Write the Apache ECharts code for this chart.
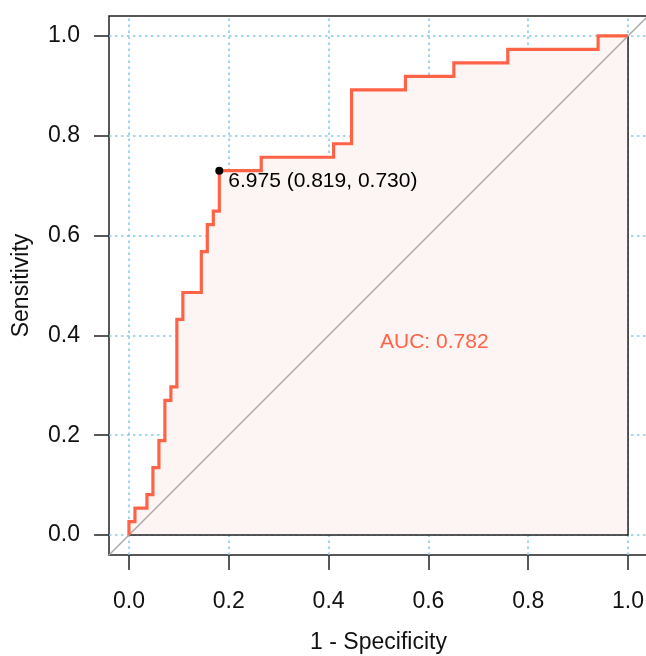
<!DOCTYPE html>
<html>
<head>
<meta charset="utf-8">
<script src="https://cdn.jsdelivr.net/npm/echarts@6/dist/echarts.min.js"></script>
<style>
    html, body { margin: 0; padding: 0; background: #fff; }
    #roc { width: 646px; height: 656px; }
</style>
</head>
<body>
<div id="roc"></div>
<script>
// corners of the ROC step curve (1 - specificity, sensitivity)
var fpr = [0, 0, 0.012, 0.012, 0.036, 0.036, 0.048, 0.048, 0.060, 0.060, 0.072, 0.072,
    0.084, 0.084, 0.096, 0.096, 0.108, 0.108, 0.145, 0.145, 0.157, 0.157, 0.169, 0.169,
    0.181, 0.181, 0.265, 0.265, 0.410, 0.410, 0.446, 0.446, 0.554, 0.554, 0.651, 0.651,
    0.759, 0.759, 0.940, 0.940, 1.0];
var tpr = [0, 0.027, 0.027, 0.054, 0.054, 0.081, 0.081, 0.135, 0.135, 0.189, 0.189, 0.270,
    0.270, 0.297, 0.297, 0.432, 0.432, 0.486, 0.486, 0.568, 0.568, 0.622, 0.622, 0.649,
    0.649, 0.730, 0.730, 0.757, 0.757, 0.784, 0.784, 0.892, 0.892, 0.919, 0.919, 0.946,
    0.946, 0.973, 0.973, 1.0, 1.0];
var ticks = [0, 0.2, 0.4, 0.6, 0.8, 1.0];
var diagX = [-0.04, 1.04];
var diagY = [-0.04, 1.04];
var bestPoint = [0.181, 0.730];
var bestLabel = '6.975 (0.819, 0.730)';
var aucPos = [0.503, 0.386];
var aucLabel = 'AUC: 0.782';

var red = '#FF6347';
var font = 'Liberation Sans, Arial, Helvetica, sans-serif';

var curve = [];
for (var k = 0; k < fpr.length; k++) {
    curve.push([fpr[k], tpr[k]]);
}
// polygon under the curve, closed along the bottom right corner
var poly = curve.concat([[1, 0]]);

var gridMarks = [];
for (var j = 0; j < ticks.length; j++) {
    gridMarks.push({ xAxis: ticks[j] });
    gridMarks.push({ yAxis: ticks[j] });
}

var chart = echarts.init(document.getElementById('roc'));

var axisCommon = {
    type: 'value',
    min: -0.04,
    max: 1.04,
    axisLine: { show: false, onZero: false },
    splitLine: { show: false },
    axisTick: {
        show: true,
        customValues: ticks,
        length: 15,
        lineStyle: { color: '#222', width: 1.5 }
    },
    axisLabel: {
        customValues: ticks,
        color: '#111',
        fontSize: 23,
        fontFamily: font,
        formatter: function (v) { return v.toFixed(1); }
    },
    nameLocation: 'middle',
    nameTextStyle: { color: '#111', fontSize: 23, fontFamily: font }
};

var option = {
    animation: false,
    grid: {
        left: 109,
        top: 16,
        width: 539,
        height: 539,
        containLabel: false,
        outerBoundsMode: 'none',
        show: true,
        borderColor: '#222',
        borderWidth: 1.5,
        backgroundColor: 'transparent'
    },
    xAxis: Object.assign({}, axisCommon, {
        name: '1 - Specificity',
        nameGap: 76,
        axisLabel: Object.assign({}, axisCommon.axisLabel, { margin: 35 })
    }),
    yAxis: Object.assign({}, axisCommon, {
        name: 'Sensitivity',
        nameGap: 76,
        axisLabel: Object.assign({}, axisCommon.axisLabel, { margin: 29 })
    }),
    series: [
        {
            // shaded AUC area, covers the dotted grid
            type: 'custom',
            z: 10,
            silent: true,
            data: [0],
            renderItem: function (params, api) {
                var pts = poly.map(function (p) { return api.coord(p); });
                return {
                    type: 'polygon',
                    shape: { points: pts },
                    style: { fill: '#FDF5F3', stroke: '#222', lineWidth: 1.5 }
                };
            },
            markLine: {
                z: 1,
                silent: true,
                symbol: 'none',
                label: { show: false },
                lineStyle: { color: '#87CBE8', width: 1.6, type: [2.5, 3.5] },
                data: gridMarks
            }
        },
        {
            type: 'line',
            z: 11,
            silent: true,
            showSymbol: false,
            data: [[diagX[0], diagY[0]], [diagX[1], diagY[1]]],
            lineStyle: { color: '#A8A8A8', width: 1.5 }
        },
        {
            type: 'line',
            z: 12,
            silent: true,
            showSymbol: false,
            data: curve,
            lineStyle: { color: red, width: 3.2, join: 'miter' }
        },
        {
            type: 'scatter',
            z: 13,
            silent: true,
            symbolSize: 8,
            itemStyle: { color: '#000', opacity: 1 },
            data: [bestPoint],
            label: {
                show: true,
                position: [13, 14],
                align: 'left',
                verticalAlign: 'middle',
                formatter: bestLabel,
                color: '#000',
                fontSize: 21,
                fontFamily: font
            }
        },
        {
            type: 'scatter',
            z: 13,
            silent: true,
            symbolSize: 0,
            itemStyle: { opacity: 1 },
            data: [aucPos],
            label: {
                show: true,
                position: [0, 0],
                align: 'left',
                verticalAlign: 'middle',
                formatter: aucLabel,
                color: red,
                fontSize: 21,
                fontFamily: font
            }
        }
    ]
};

chart.setOption(option);
</script>
</body>
</html>
